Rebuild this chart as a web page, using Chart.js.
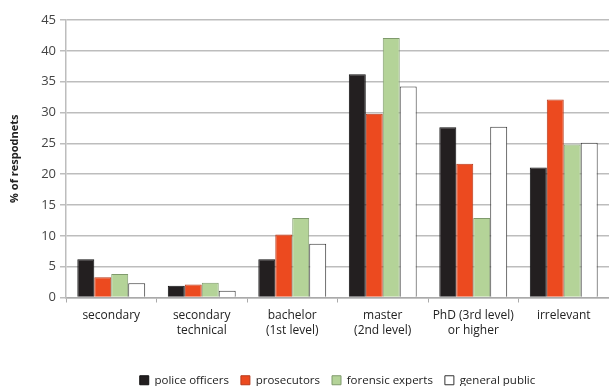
<!DOCTYPE html>
<html>
<head>
<meta charset="utf-8">
<script src="https://cdn.jsdelivr.net/npm/chart.js@4/dist/chart.umd.min.js"></script>
<style>
  html, body { margin: 0; padding: 0; background: #fff; }
  #wrap { width: 609px; height: 386px; position: relative; }
</style>
</head>
<body>
<div id="wrap"><canvas id="c"></canvas></div>
<script>
const categories = [
  'secondary',
  ['secondary', 'technical'],
  ['bachelor', '(1st level)'],
  ['master', '(2nd level)'],
  ['PhD (3rd level)', 'or higher'],
  'irrelevant'
]
const policeOfficers = [6.2, 1.9, 6.2, 36.2, 27.6, 21.1]
const prosecutors = [3.3, 2.1, 10.2, 29.8, 21.7, 32.1]
const forensicExperts = [3.8, 2.4, 12.9, 42.1, 12.9, 24.8]
const generalPublic = [2.3, 1.1, 8.7, 34.2, 27.7, 25.1]
const yTicks = [0, 5, 10, 15, 20, 25, 30, 35, 40, 45]

const font = 'Open Sans, Liberation Sans, sans-serif'

new Chart(document.getElementById('c'), {
  type: 'bar',
  data: {
    labels: categories,
    datasets: [
      { label: 'police officers', data: policeOfficers, backgroundColor: '#231f20', borderColor: '#111', borderWidth: 1 },
      { label: 'prosecutors', data: prosecutors, backgroundColor: '#ec4a1f', borderColor: '#b8391a', borderWidth: 1 },
      { label: 'forensic experts', data: forensicExperts, backgroundColor: '#b4d398', borderColor: '#7f9a6c', borderWidth: 1 },
      { label: 'general public', data: generalPublic, backgroundColor: '#ffffff', borderColor: '#333', borderWidth: 1 },
    ],
  },
  options: {
    responsive: true,
    maintainAspectRatio: false,
    animation: false,
    layout: { padding: { top: 20, right: -5, left: 4, bottom: -10 } },
    datasets: { bar: { categoryPercentage: 0.75, barPercentage: 1.0 } },
    plugins: {
      tooltip: { enabled: false },
      legend: {
        position: 'bottom',
        fullSize: false,
        labels: {
          font: { family: font, size: 11.5 },
          color: '#222',
          boxWidth: 9,
          boxHeight: 9,
          padding: 12,
        },
      },
    },
    scales: {
      x: {
        afterFit: (axis) => { axis.height = 65 },
        grid: { display: true, drawOnChartArea: false, offset: true, tickLength: 5, color: '#aaa' },
        border: { color: '#aaa', width: 1.5 },
        ticks: { font: { family: font, size: 12 }, color: '#222', padding: 6, maxRotation: 0 },
      },
      y: {
        min: 0,
        max: 45,
        afterBuildTicks: (axis) => { axis.ticks = yTicks.map(v => ({ value: v })) },
        afterFit: (axis) => { axis.width = 62 },
        grid: { color: '#bdbdbd', lineWidth: 1.5, tickLength: 6 },
        border: { color: '#bdbdbd', width: 1.5 },
        ticks: { font: { family: font, size: 13 }, color: '#444', padding: 4 },
        title: {
          display: true,
          text: '% of respodnets',
          font: { family: font, size: 11, weight: 'bold' },
          color: '#222',
          padding: { bottom: 8 },
        },
      },
    },
  },
})
</script>
</body>
</html>
